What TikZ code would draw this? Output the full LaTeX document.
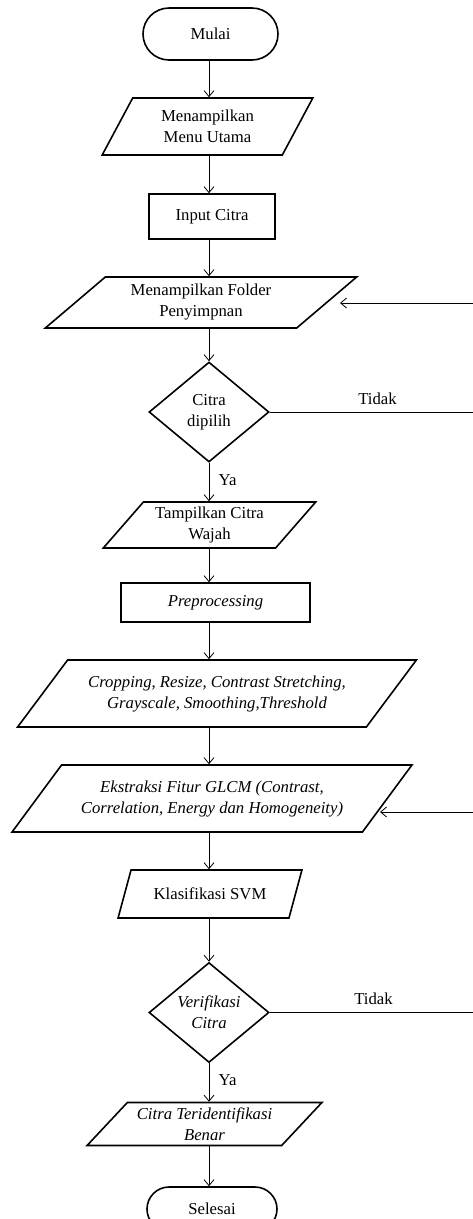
\documentclass[tikz,border=0pt]{standalone}
\usepackage{fontspec}
\setmainfont{Liberation Serif}
\usetikzlibrary{shapes.geometric,shapes.misc,arrows.meta}
\newcommand{\huruf}{\fontsize{16.7}{21}\selectfont}

\begin{document}
\begin{tikzpicture}[x=1pt,y=-1pt,font=\huruf,
                garis/.style={line width=0.8pt},
                panah/.style={garis,-{Straight Barb[length=6pt,width=10pt]}},
                terminal/.style={draw,line width=1.6pt,rounded rectangle,inner sep=0pt},
                proses/.style={draw,line width=1.6pt,rectangle,inner sep=0pt},
                keputusan/.style={draw,line width=1.6pt,diamond,minimum width=120pt,minimum height=100pt,inner sep=0pt,align=center},
                io/.style n args={4}{draw,line width=1.6pt,trapezium,trapezium stretches=true,
                        trapezium left angle=#1,trapezium right angle=#2,minimum width=#3,minimum height=#4,inner sep=0pt,align=center}]
                \useasboundingbox (0,0) rectangle (473,1219);
                \clip (0,0) rectangle (473,1219);
                \coordinate (spine) at (209,0);
                \coordinate (kanan) at (473,0);

                \node[terminal,minimum width=135pt,minimum height=52pt] (mulai) at (210.5,34) {Mulai};
                \node[io={60}{120}{211pt}{57pt}] (menu) at (207.5,126.5) {Menampilkan\\Menu Utama};
                \node[proses,minimum width=126pt,minimum height=45pt] (input) at (212,216.5) {Input Citra};
                \node[io={39.4}{140.6}{312pt}{51pt}] (folder) at (201,302.5) {Menampilkan Folder\\Penyimpnan};
                \node[keputusan] (pilih) at (209,412) {Citra\\dipilih};
                \node[io={47.6}{132.4}{213pt}{46pt}] (tampil) at (209.5,525) {Tampilkan Citra\\Wajah};
                \node[proses,minimum width=189pt,minimum height=39pt,font=\huruf\itshape] (prep) at (215.5,602.5) {Preprocessing};
                \node[io={40}{140}{400pt}{67pt},font=\huruf\itshape] (crop) at (217,693.5) {Cropping, Resize, Contrast Stretching,\\Grayscale, Smoothing,Threshold};
                \node[io={40}{140}{400pt}{67pt},font=\huruf\itshape] (ekstrak) at (212,798.5) {Ekstraksi Fitur GLCM (Contrast,\\Correlation, Energy dan Homogeneity)};
                \node[io={52.4}{127.6}{184pt}{48pt}] (svm) at (210,894) {Klasifikasi SVM};
                \node[keputusan,font=\huruf\itshape] (verif) at (209,1012.5) {Verifikasi\\Citra};
                \node[io={43}{137}{235pt}{43pt},font=\huruf\itshape] (benar) at (204.5,1124) {Citra Teridentifikasi\\Benar};
                \node[terminal,minimum width=130pt,minimum height=44pt] (selesai) at (212,1209) {Selesai};

                \foreach \a/\b in {mulai/menu,menu/input,input/folder,folder/pilih,tampil/prep,prep/crop,crop/ekstrak,ekstrak/svm,svm/verif,benar/selesai}
                        \draw[panah] (\a.south -| spine) -- (\b.north -| spine);
                \draw[panah] (pilih.south) -- node[right=6pt,pos=0.45] {Ya} (tampil.north -| spine);
                \draw[panah] (verif.south) -- node[right=6pt,pos=0.45] {Ya} (benar.north -| spine);
                \draw[garis] (pilih.east) -- node[above=4pt,pos=0.53] {Tidak} (pilih.east -| kanan);
                \draw[garis] (verif.east) -- node[above=4pt,pos=0.51] {Tidak} (verif.east -| kanan);

                \coordinate (balik1) at (473,303);
                \coordinate (ujung1) at (340,303);
                \coordinate (balik2) at (473,812);
                \coordinate (ujung2) at (380,812);
                \draw[panah] (balik1) -- (ujung1);
                \draw[panah] (balik2) -- (ujung2);
\end{tikzpicture}
\end{document}
